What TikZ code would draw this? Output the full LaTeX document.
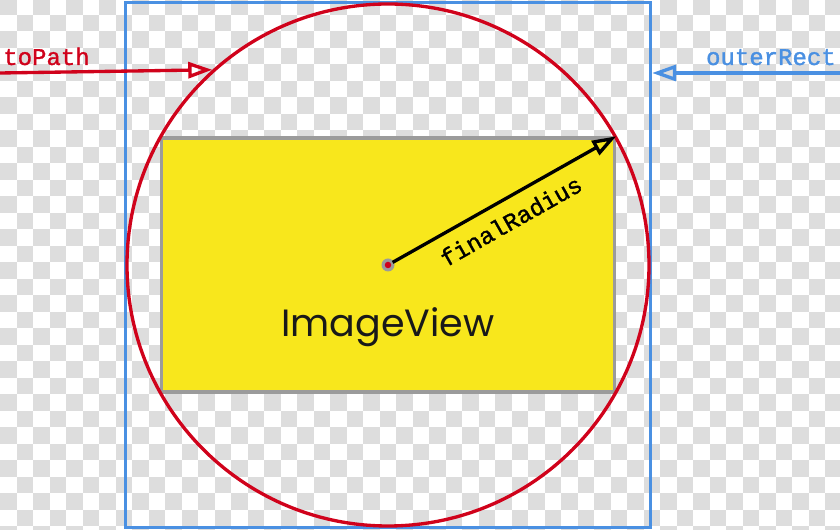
\documentclass[tikz,border=0pt]{standalone}
\usepackage{fontspec}
\setmainfont{Poppins}
\font\monolbl="Liberation Mono:embolden=1.3" at 18pt
\usetikzlibrary{arrows.meta}
\definecolor{chkgrey}{RGB}{221,221,221}
\definecolor{rectblue}{RGB}{74,144,226}
\definecolor{circred}{RGB}{208,2,27}
\definecolor{imgyellow}{RGB}{248,231,28}
\definecolor{imgborder}{RGB}{155,155,155}
\tikzset{
  lbl/.style={font=\monolbl, inner sep=0pt},
  tip/.style={-{Triangle[open,length=18pt,width=12pt,line width=2.5pt]}},
  thick3/.style={line width=2.5pt},
}
\begin{document}
\begin{tikzpicture}[x=0.75pt,y=-0.75pt]
\useasboundingbox (0,0) rectangle (840,530);
\fill[white] (0,0) rectangle (840,530);
% checkerboard
\foreach \i in {0,...,50}{
  \foreach \j in {0,...,32}{
    \pgfmathtruncatemacro{\chkpar}{mod(\i+\j,2)}
    \ifnum\chkpar=0
      \fill[chkgrey] (16.5*\i,-1.5+16.5*\j) rectangle ++(16.5,16.5);
    \fi
  }
}
\coordinate (c) at (388,265);
\node[draw=rectblue, thick3, minimum width=525*0.75pt, minimum height=525*0.75pt, inner sep=0pt] (outer) at (c) {};
\node[draw=imgborder, fill=imgyellow, thick3, minimum width=453*0.75pt, minimum height=254*0.75pt, inner sep=0pt] (img) at (c) {};
\node[circle, draw=circred, thick3, minimum size=2*261*0.75pt, inner sep=0pt] (circ) at (c) {};
\node[anchor=base, font=\fontsize{28.5}{28.5}\selectfont, text=black!90, inner sep=0pt] (iv) at (388,337) {ImageView};
% center dot
\node[circle, fill=imgborder, minimum size=13*0.75pt, inner sep=0pt] (dot) at (c) {};
\node[circle, fill=circred, minimum size=6.5*0.75pt, inner sep=0pt] (dotin) at (c) {};
% finalRadius
\draw[thick3, black, tip, shorten <=4pt] (c) -- (img.north east);
\node[lbl, rotate=29.5, black] (fr) at (511,221) {finalRadius};
% toPath
\coordinate (tps) at (0,73);
\draw[thick3, circred, tip] (tps) -- (circ.132.6);
\node[lbl, text=circred, anchor=base west] (tpl) at (3,65) {toPath};
% outerRect
\coordinate (ors) at (840,73);
\draw[thick3, rectblue, tip] (ors) -- (outer.east |- ors);
\node[lbl, text=rectblue, anchor=base east] (orl) at (836,65) {outerRect};
\end{tikzpicture}
\end{document}
